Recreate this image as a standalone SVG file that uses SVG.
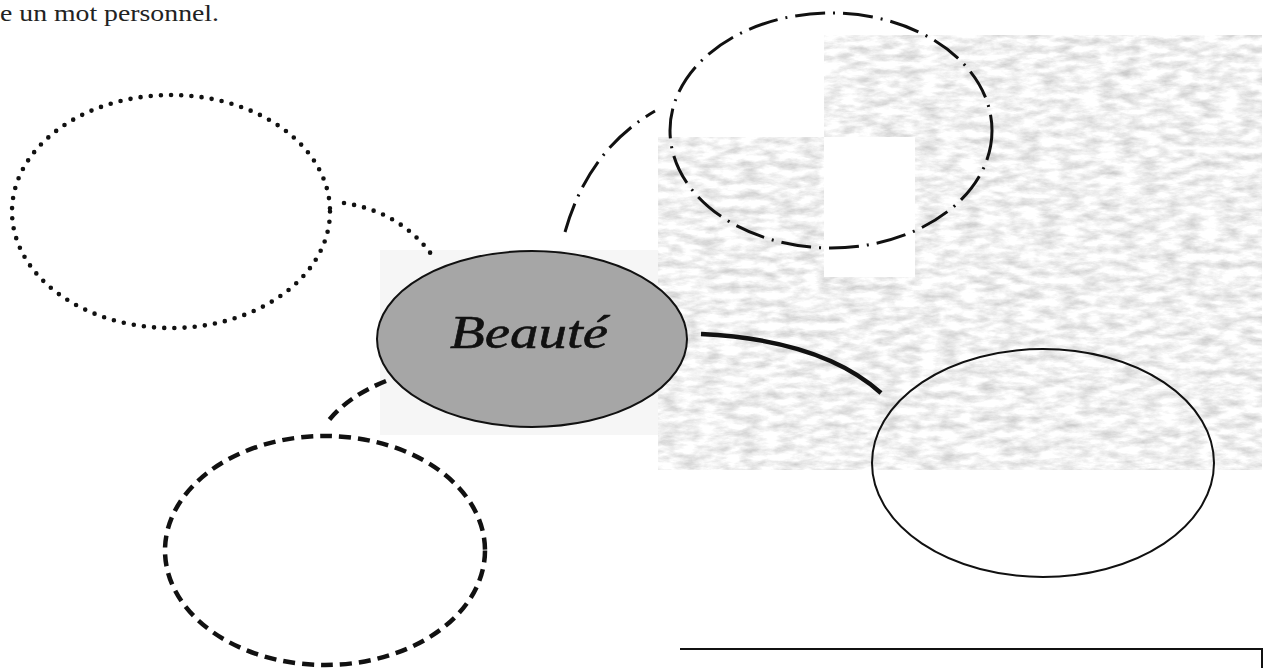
<svg xmlns="http://www.w3.org/2000/svg" width="1273" height="668" viewBox="0 0 1273 668">
  <defs>
    <filter id="tex" x="0" y="0" width="100%" height="100%" filterUnits="objectBoundingBox">
      <feTurbulence type="fractalNoise" baseFrequency="0.05 0.13" numOctaves="5" seed="11" result="n"/>
      <feColorMatrix in="n" type="matrix" values="0 0 0 0 0.55  0 0 0 0 0.55  0 0 0 0 0.55  1.5 0 0 0 -0.52" result="g"/>
      <feComposite in="g" in2="SourceGraphic" operator="in"/>
    </filter>
    <style>
      .bg { fill: #000; fill-rule: evenodd; }
      .dotted { fill: none; stroke: #111; stroke-width: 4.6; stroke-linecap: round; stroke-dasharray: 0 10.2; }
      .dashed { fill: none; stroke: #111; stroke-width: 4.5; stroke-dasharray: 12 7; }
      .dashdot { fill: none; stroke: #111; stroke-width: 3; stroke-dasharray: 30 8 2 8; }
      .solid { fill: none; stroke: #111; stroke-width: 2; }
      .thick { fill: none; stroke: #111; stroke-width: 4.5; }
      .center { fill: #a6a6a6; stroke: #111; stroke-width: 2; }
      .title { font-family: "Liberation Serif", "DejaVu Serif", serif; font-size: 23px; fill: #222; }
      .label { font-family: "Liberation Serif", "DejaVu Serif", serif; font-style: italic; font-size: 47px; fill: #111; stroke: #111; stroke-width: 0.6; }
    </style>
  </defs>

  <rect width="1273" height="668" fill="#fff"/>

  <!-- faint scanned background -->
  <g id="background">
    <path class="bg" filter="url(#tex)" d="M824 35 H1262 V470 H658 V137 H824 Z M824 137 H915 V277 H824 Z"/>
    <rect x="380" y="250" width="278" height="185" fill="#f6f6f6"/>
  </g>

  <text class="title" x="0" y="21" textLength="219" lengthAdjust="spacingAndGlyphs">e un mot personnel.</text>

  <g id="connectors">
    <path class="dotted" d="M344 203 Q 402 212 434 258"/>
    <path class="dashdot" d="M565 232 Q 588 150 655 111"/>
    <path class="thick" d="M701 334 Q 822 340 881 393"/>
    <path class="dashed" d="M386 381 Q 346 397 326 424"/>
  </g>

  <g id="node-dotted">
    <ellipse class="dotted" cx="171" cy="211.5" rx="159" ry="116.5"/>
  </g>

  <g id="node-dashdot">
    <ellipse class="dashdot" cx="831" cy="130.5" rx="161" ry="117.5"/>
  </g>

  <g id="node-solid">
    <ellipse class="solid" cx="1043" cy="463" rx="171" ry="114"/>
  </g>

  <g id="node-dashed">
    <ellipse class="dashed" cx="325" cy="550.5" rx="160" ry="114.5"/>
  </g>

  <g id="node-center">
    <ellipse class="center" cx="532" cy="339" rx="155" ry="88"/>
    <text class="label" x="450" y="348" textLength="158" lengthAdjust="spacingAndGlyphs">Beauté</text>
  </g>

  <g id="box">
    <path d="M680 649 H1262 V668" fill="none" stroke="#111" stroke-width="2"/>
  </g>
</svg>
